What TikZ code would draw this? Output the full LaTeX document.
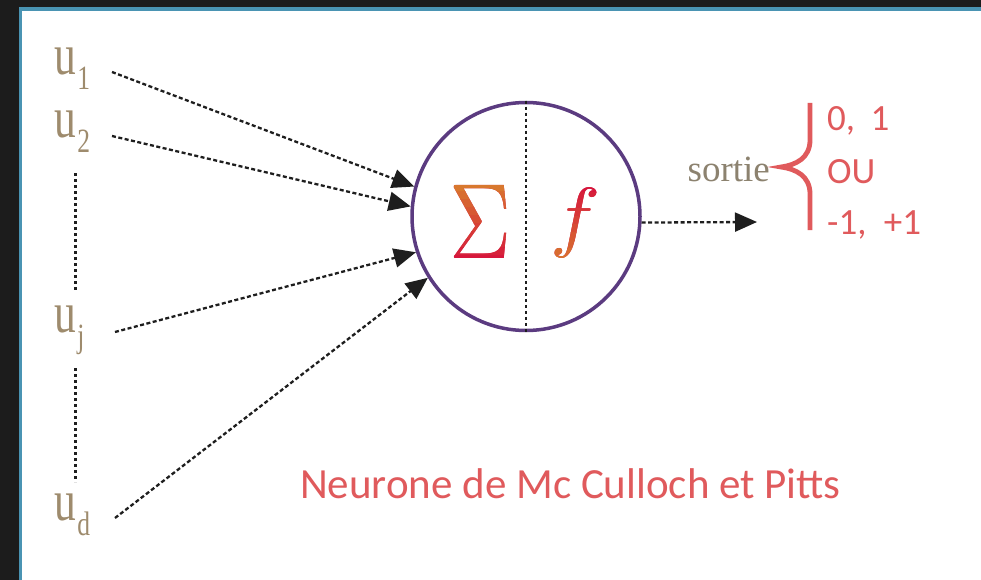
\documentclass[tikz,border=0pt]{standalone}
\usepackage{fontspec}
\setmainfont{Liberation Serif}
\newfontfamily\titlefont{Carlito}
\usetikzlibrary{arrows.meta}

\definecolor{framebg}{HTML}{1C1C1C}
\definecolor{paneledge}{HTML}{4A94B3}
\definecolor{ink}{HTML}{1E1E1E}
\definecolor{tanlabel}{HTML}{9E8B6D}
\definecolor{sortiecol}{HTML}{8C826F}
\definecolor{rim}{HTML}{5B3B80}
\definecolor{rose}{HTML}{E05A5C}
\definecolor{crimson}{HTML}{D6163C}
\definecolor{amber}{HTML}{D8782E}

% input label u with a lowered index, drawn slightly condensed
\newcommand\ulab[1]{\scalebox{0.75}[1]{\fontsize{58}{58}\selectfont u\kern2pt\raisebox{-15pt}{\fontsize{34}{34}\selectfont #1}}}

\newcommand\sigmaglyph{\scalebox{8.6}[10.7]{$\Sigma$}}
\newcommand\fglyph{\scalebox{8.4}[7.8]{$f$}}

\begin{document}
\begin{tikzpicture}[x=1pt,y=-1pt,
  ulabel/.style={inner sep=0pt, text=tanlabel, anchor=base west},
  feed/.style={ink, line width=2.3pt, dash pattern=on 4pt off 2.5pt,
    -{Triangle[length=22pt,width=19pt]}},
  dotline/.style={ink, line width=3pt, dash pattern=on 3pt off 3pt},
  glyph/.style={inner sep=0pt},
  redtext/.style={text=rose, inner sep=0pt, anchor=base west,
    font=\titlefont\fontsize{37}{37}\selectfont}]

  % dark frame and white panel
  \fill[framebg] (0,0) rectangle (981,580);
  \path[use as bounding box] (0,0) rectangle (981,580);
  \fill[white] (20.5,9) rectangle (981,580);
  \draw[paneledge, line width=3.5pt] (20.5,580) -- (20.5,9) -- (981,9);

  % inputs
  \node[ulabel] (u1) at (54,75) {\ulab{1}};
  \node[ulabel] (u2) at (54,138) {\ulab{2}};
  \node[ulabel] (uj) at (54,332) {\ulab{j}};
  \node[ulabel] (ud) at (54,520) {\ulab{d}};

  \coordinate (a1) at (112,72);
  \coordinate (a2) at (112,136);
  \coordinate (aj) at (115,332);
  \coordinate (ad) at (115,518);

  \coordinate (v1) at (75,173);
  \coordinate (v2) at (75,290);
  \coordinate (v3) at (75,368);
  \coordinate (v4) at (75,482);
  \draw[dotline] (v1) -- (v2);
  \draw[dotline] (v3) -- (v4);

  % neuron
  \node[circle, draw=rim, line width=3.5pt, minimum size=228pt, inner sep=0pt]
    (neuron) at (526,216.5) {};
  \draw[dotline, line width=2.4pt] (neuron.north) -- (neuron.south);

  \draw[feed] (a1) -- (neuron.165);
  \draw[feed] (a2) -- (neuron.175);
  \draw[feed] (aj) -- (neuron.198);
  \draw[feed] (ad) -- (neuron.212);

  % summation: amber at the top fading into crimson, in horizontal bands
  \node[glyph, text=crimson] (sigma) at (481,221.5) {\sigmaglyph};
  \foreach \k in {0,...,9} {
    \pgfmathtruncatemacro\mix{100-11*\k}
    \begin{scope}
      \clip (440,183+\k*8) rectangle (525,191.5+\k*8);
      \node[glyph, text=amber!\mix!crimson] (sigmaband\k) at (sigma) {\sigmaglyph};
    \end{scope}
  }
  % activation: crimson at the top, amber at the foot
  \node[glyph, text=crimson] (fn) at (576,222.5) {\fglyph};
  \foreach \k in {0,...,9} {
    \pgfmathtruncatemacro\mix{11*\k}
    \begin{scope}
      \clip (540,184+\k*8) rectangle (615,192.5+\k*8);
      \node[glyph, text=amber!\mix!crimson] (fband\k) at (fn) {\fglyph};
    \end{scope}
  }

  % output
  \coordinate (out) at (757,222);
  \draw[feed] (neuron.-3) -- (out);
  \node[inner sep=0pt, anchor=base east, text=sortiecol,
    font=\fontsize{37}{37}\selectfont] (sortie) at (770,182) {sortie};

  % brace with the two possible output sets
  \draw[rose, line width=4.8pt]
    (810,103) -- (810,140) .. controls (810,158) and (796,165) .. (781,167)
    .. controls (796,169) and (810,176) .. (810,194) -- (810,230);
  \node[redtext] (v01) at (827,131) {0,\hspace{7pt} 1};
  \node[redtext] (vou) at (827,183) {OU};
  \node[redtext] (vpm) at (827,234) {-1,\hspace{9pt} +1};

  % caption
  \node[text=rose, inner sep=0pt, anchor=base west,
    font=\titlefont\fontsize{43}{43}\selectfont] (caption) at (300,498)
    {Neurone de Mc Culloch et Pitts};
\end{tikzpicture}
\end{document}
